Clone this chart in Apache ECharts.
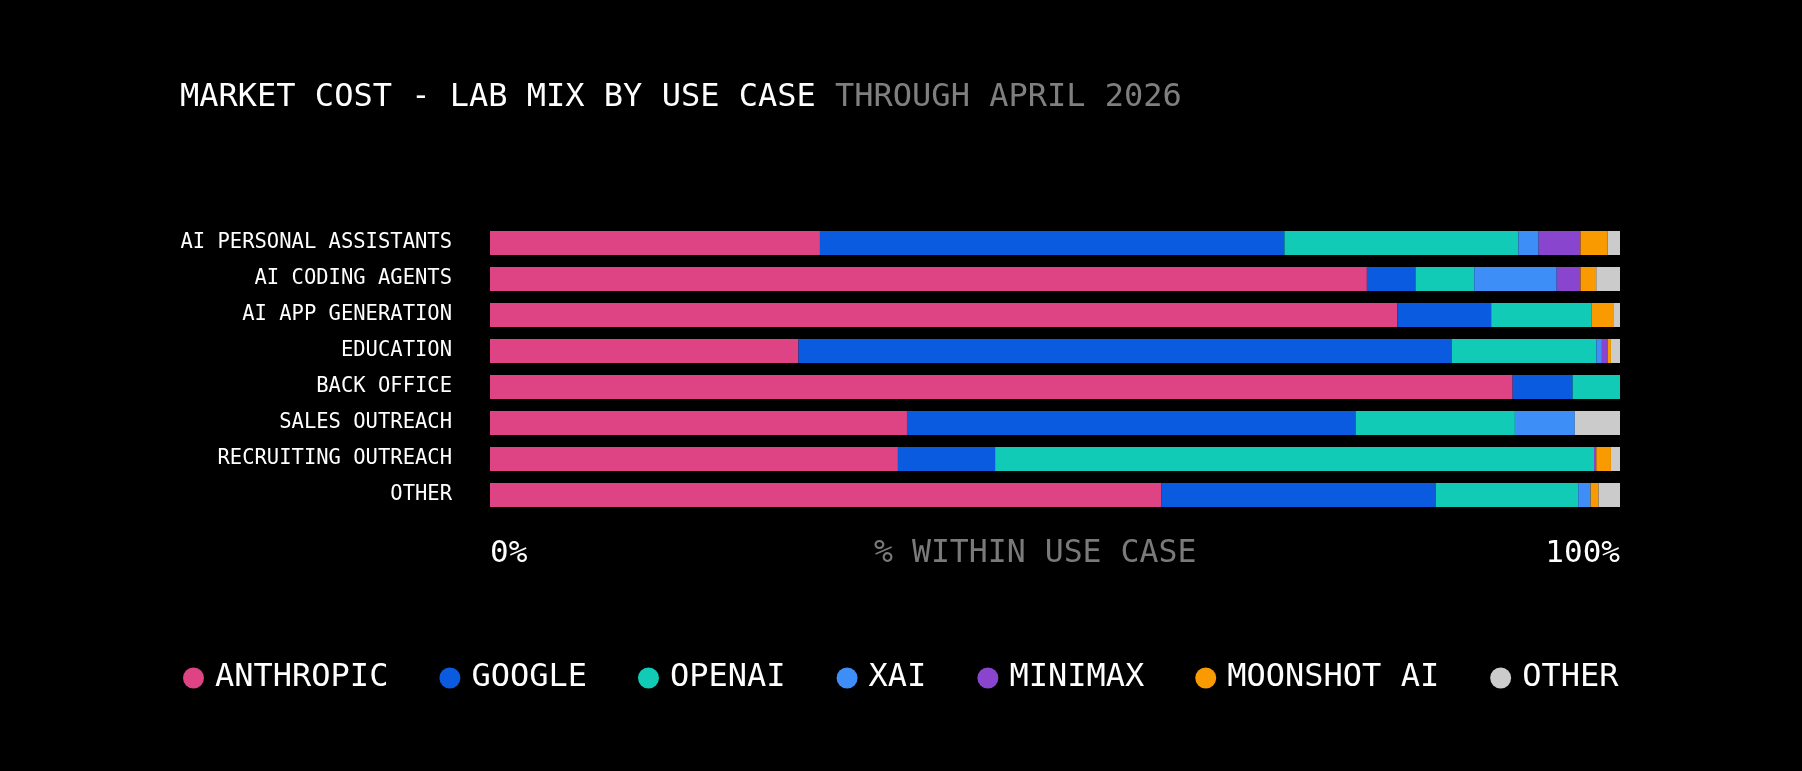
<!DOCTYPE html>
<html>
<head>
    <meta charset="utf-8">
    <title>Market cost - lab mix by use case</title>
    <script src="https://cdn.jsdelivr.net/npm/echarts@6/dist/echarts.min.js"></script>
    <style>
        html, body { margin: 0; padding: 0; background: #000; }
        #chart { width: 1802px; height: 771px; }
    </style>
</head>
<body>
<div id="chart"></div>
<script type="text/javascript">
    // use cases, top to bottom
    var useCases = ['AI PERSONAL ASSISTANTS', 'AI CODING AGENTS', 'AI APP GENERATION', 'EDUCATION',
        'BACK OFFICE', 'SALES OUTREACH', 'RECRUITING OUTREACH', 'OTHER'];

    // share of market cost within each use case (%)
    var anthropic = [29.2, 77.6, 80.3, 27.3, 90.5, 36.9, 36.1, 59.4];
    var google    = [41.1, 4.3, 8.3, 57.8, 5.3, 39.7, 8.6, 24.3];
    var openai    = [20.7, 5.2, 8.9, 12.8, 4.2, 14.1, 53.0, 12.6];
    var xai       = [1.8, 7.3, 0, 0.5, 0, 5.3, 0, 1.1];
    var minimax   = [3.7, 2.1, 0, 0.5, 0, 0, 0.2, 0];
    var moonshot  = [2.4, 1.4, 1.9, 0.3, 0, 0, 1.3, 0.7];
    var other     = [1.1, 2.1, 0.6, 0.8, 0, 4.0, 0.8, 1.9];

    var labNames = ['ANTHROPIC', 'GOOGLE', 'OPENAI', 'XAI', 'MINIMAX', 'MOONSHOT AI', 'OTHER'];
    var labData = [anthropic, google, openai, xai, minimax, moonshot, other];
    var labColors = ['#DE4383', '#0A5BE0', '#12CBB7', '#3E8EF7', '#8A45CF', '#F89A00', '#CBCBCB'];

    var mono = '"DejaVu Sans Mono", "Liberation Mono", monospace';

    var series = [];
    for (var i = 0; i < labNames.length; i++) {
        series.push({
            name: labNames[i],
            type: 'bar',
            stack: 'mix',
            barWidth: 24,
            data: labData[i],
            itemStyle: { color: labColors[i] },
            emphasis: { disabled: true }
        });
    }

    var chart = echarts.init(document.getElementById('chart'));
    chart.setOption({
        backgroundColor: '#000',
        animation: false,
        color: labColors,
        title: {
            left: 180,
            top: 82,
            padding: 0,
            text: '{a|MARKET COST - LAB MIX BY USE CASE }{b|THROUGH APRIL 2026}',
            textStyle: {
                fontWeight: 'normal',
                rich: {
                    a: { fontFamily: mono, fontSize: 32, fontWeight: 'normal', color: '#ffffff' },
                    b: { fontFamily: mono, fontSize: 32, fontWeight: 'normal', color: '#7f7f7f' }
                }
            }
        },
        grid: {
            left: 490, right: 182, top: 225, bottom: 258
        },
        legend: {
            data: labNames,
            left: 178,
            top: 657,
            icon: 'circle',
            itemWidth: 21,
            itemHeight: 21,
            itemGap: 51,
            selectedMode: false,
            textStyle: {
                fontFamily: mono,
                fontSize: 32,
                color: '#ffffff',
                padding: [0, 0, 0, 6]
            }
        },
        xAxis: {
            type: 'value',
            min: 0,
            max: 100,
            interval: 100,
            axisLine: { show: false },
            axisTick: { show: false },
            splitLine: { show: false },
            axisLabel: {
                formatter: '{value}%',
                fontFamily: mono,
                fontSize: 31,
                color: '#ffffff',
                margin: 25,
                alignMinLabel: 'left',
                alignMaxLabel: 'right'
            }
        },
        yAxis: {
            type: 'category',
            data: useCases,
            inverse: true,
            axisLine: { show: false },
            axisTick: { show: false },
            axisLabel: {
                fontFamily: mono,
                fontSize: 20.5,
                color: '#ffffff',
                margin: 38
            }
        },
        graphic: [{
            type: 'text',
            left: 1036 - 162,
            top: 538,
            style: {
                text: '% WITHIN USE CASE',
                font: '31.5px ' + mono,
                fill: '#7a7a7a'
            }
        }],
        series: series
    });
</script>
</body>
</html>
